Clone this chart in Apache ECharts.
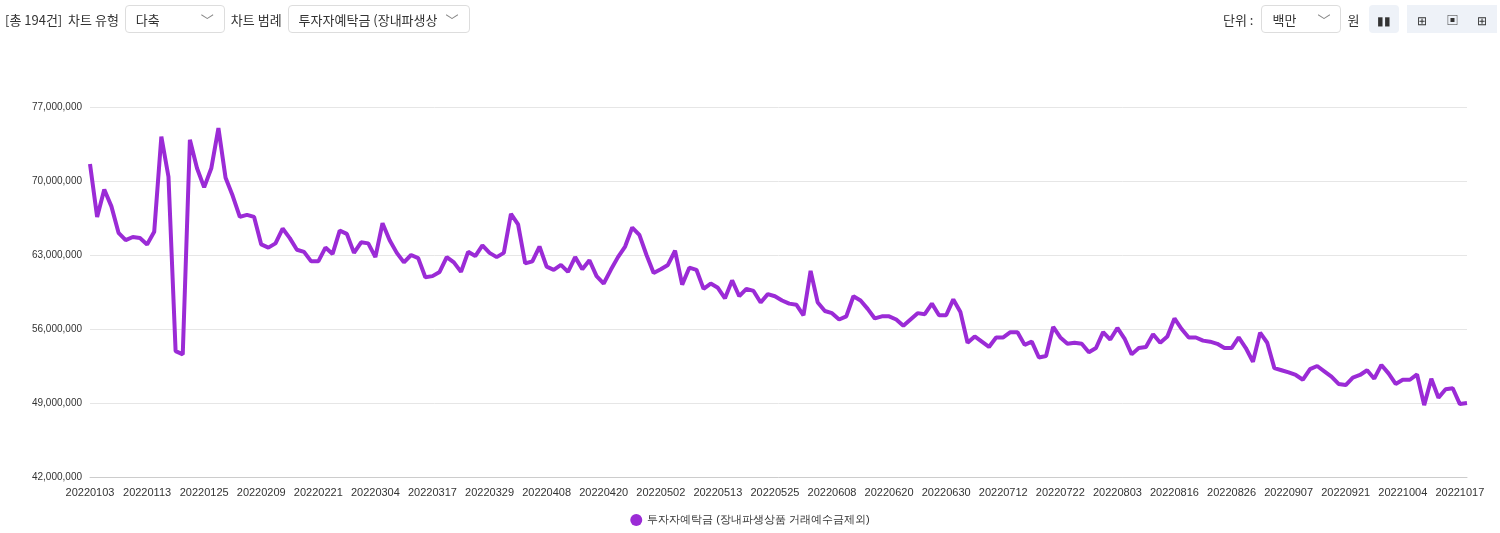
<!DOCTYPE html>
<html><head><meta charset="utf-8">
<script src="https://cdn.jsdelivr.net/npm/echarts@6/dist/echarts.min.js"></script>
<style>
body{margin:0;background:#fff;font-family:"Noto Sans CJK KR","Noto Sans",sans-serif;}
#c{position:absolute;left:0;top:0;width:1500px;height:533px;}
.bar{position:absolute;top:4px;height:30px;display:flex;align-items:center;font-size:13px;color:#333;z-index:2}
.sel{border:1px solid #ddd;border-radius:4px;height:28px;box-sizing:border-box;display:flex;align-items:center;padding:0 10px;margin:0 6px;justify-content:space-between;background:#fff}
.ic{width:30px;height:28px;display:flex;align-items:center;justify-content:center;background:#eef2f8;color:#333;font-size:12px}
</style></head><body>
<div class="bar" style="left:5px">[총 194건]&nbsp;&nbsp;차트 유형<div class="sel" style="width:100px">다축<span style="color:#888">﹀</span></div>차트 범례<div class="sel" style="width:182px">투자자예탁금 (장내파생상<span style="color:#888">﹀</span></div></div>
<div class="bar" style="left:1223px">단위 :<div class="sel" style="width:80px;margin-left:8px">백만<span style="color:#888">﹀</span></div>원
<div class="ic" style="margin-left:10px;border-radius:4px">▮▮</div>
<div style="display:flex;margin-left:8px;background:#eef2f8;border-radius:4px"><div class="ic">⊞</div><div class="ic">▣</div><div class="ic">⊞</div></div></div>
<div id="c"></div>
<script>
const seriesName = '투자자예탁금 (장내파생상품 거래예수금제외)';
const holidays = ['20220131','20220201','20220202','20220301','20220309','20220505','20220601','20220606','20220815','20220909','20220912','20221003','20221010'];
// values in millions of 백만원 ×1 (i.e. shown ×1,000,000)
const values = [
71.6,66.6,69.2,67.6,65.1,64.4,64.7,64.6,64.0,65.2,74.2,70.4,53.9,53.6,73.9,71.2,69.4,71.2,75.0,70.3,
68.6,66.6,66.8,66.6,64.0,63.7,64.1,65.5,64.6,63.5,63.3,62.4,62.4,63.7,63.1,65.3,65.0,63.2,64.2,64.1,
62.8,66.0,64.4,63.2,62.3,63.0,62.7,60.9,61.0,61.4,62.8,62.3,61.4,63.3,62.9,63.9,63.2,62.8,63.2,66.9,
65.9,62.2,62.4,63.8,61.9,61.6,
62.06,61.4,62.8,61.65,62.5,61.0,60.3,61.6,62.8,63.8,65.6,64.9,63.0,61.3,61.65,62.06,63.4,60.2,61.8,61.6,
59.8,60.3,59.9,58.9,60.6,59.1,59.8,59.6,58.5,59.3,59.1,58.7,58.4,58.3,57.3,61.5,58.5,57.7,57.5,56.9,
57.2,59.1,58.7,57.9,57.0,57.2,57.2,56.9,56.3,56.9,57.5,57.4,58.4,57.3,57.3,58.8,57.6,54.7,55.3,54.8,
54.3,55.2,55.2,55.7,55.7,54.5,54.8,53.3,
53.45,56.2,55.2,54.6,54.7,54.6,53.8,54.2,55.7,55.0,56.1,55.1,53.6,54.2,54.3,55.5,54.7,55.3,57.0,56.0,
55.2,55.2,54.9,54.8,54.6,54.2,54.2,55.2,54.2,52.9,55.65,54.7,52.3,52.1,51.9,51.65,51.2,52.2,52.5,52.0,
51.5,50.8,50.7,51.4,51.65,52.1,51.3,52.6,51.8,50.8,51.2,51.2,51.7,48.8,51.3,49.5,50.3,50.4,48.9,49.0];
const yTicks = [42,49,56,63,70,77];
// trading-day categories
const dates = [];
{ let d = new Date(2022,0,3);
  while (dates.length < values.length) {
    const s = d.getFullYear()+String(d.getMonth()+1).padStart(2,'0')+String(d.getDate()).padStart(2,'0');
    const w = d.getDay();
    if (w!==0 && w!==6 && !holidays.includes(s)) dates.push(s);
    d.setDate(d.getDate()+1);
  } }
const chart = echarts.init(document.getElementById('c'));
chart.setOption({
  animation:false,
  grid:{left:90,right:33,top:107,bottom:56},
  legend:{bottom:2,left:'center',icon:'circle',itemWidth:12,itemHeight:12,textStyle:{fontSize:11,color:'#333'}},
  xAxis:{type:'category',data:dates,boundaryGap:false,
    axisLine:{lineStyle:{color:'#ccc'}},axisTick:{show:false},
    axisLabel:{interval:7,color:'#333',fontSize:11,margin:10}},
  yAxis:{type:'value',min:yTicks[0],max:yTicks[yTicks.length-1],interval:7,
    axisLabel:{color:'#333',fontSize:10,formatter:v=>(v*1e6).toLocaleString('en-US')},
    splitLine:{lineStyle:{color:'#e6e6e6'}}},
  series:[{name:seriesName,type:'line',data:values,showSymbol:false,symbol:'circle',
    itemStyle:{color:'#9b2bd6'},lineStyle:{width:4,color:'#9b2bd6'}}]
});
</script></body></html>
